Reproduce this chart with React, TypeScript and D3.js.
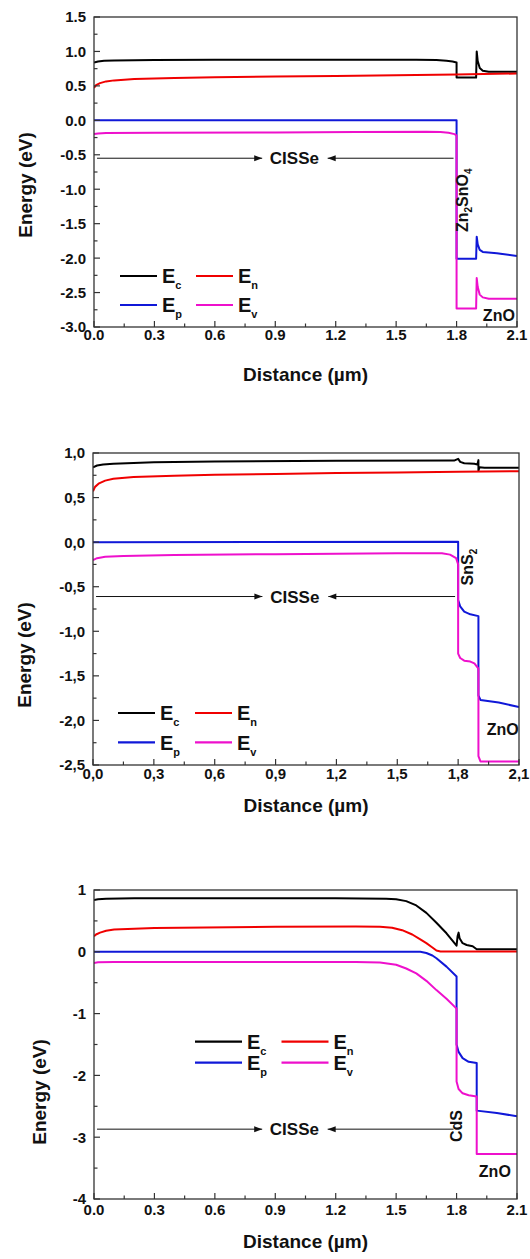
import React from "react";
import * as d3 from "d3";

type Pt = [number, number];

// distance (µm) ticks shared by all three panels
const distanceTicks = [0, 0.3, 0.6, 0.9, 1.2, 1.5, 1.8, 2.1];
const energyTicksA = [-3, -2.5, -2, -1.5, -1, -0.5, 0, 0.5, 1, 1.5];
const energyTicksB = [-2.5, -2, -1.5, -1, -0.5, 0, 0.5, 1];
const energyTicksC = [-4, -3, -2, -1, 0, 1];

// --- panel A: CISSe / Zn2SnO4 / ZnO
const ecA: Pt[] = [[0, 0.84], [0.02, 0.855], [0.05, 0.865], [0.1, 0.87], [0.3, 0.875], [0.6, 0.878], [1.2, 0.88], [1.6, 0.88], [1.7, 0.875], [1.75, 0.865], [1.78, 0.855], [1.8, 0.84], [1.8, 0.62], [1.897, 0.62], [1.9, 1.0], [1.905, 0.86], [1.915, 0.76], [1.93, 0.72], [1.96, 0.705], [2.1, 0.705]];
const enA: Pt[] = [[0, 0.47], [0.01, 0.51], [0.03, 0.54], [0.06, 0.565], [0.1, 0.58], [0.2, 0.6], [0.4, 0.615], [0.6, 0.625], [0.9, 0.635], [1.2, 0.645], [1.5, 0.655], [1.8, 0.665], [2.1, 0.68]];
const epA: Pt[] = [[0, 0], [1.8, 0], [1.8, -2.01], [1.897, -2.01], [1.9, -1.69], [1.905, -1.8], [1.915, -1.88], [1.93, -1.91], [2.0, -1.93], [2.1, -1.97]];
const evA: Pt[] = [[0, -0.2], [0.02, -0.19], [0.06, -0.185], [0.3, -0.18], [0.9, -0.175], [1.3, -0.17], [1.65, -0.165], [1.72, -0.17], [1.76, -0.18], [1.79, -0.2], [1.8, -0.22], [1.8, -2.73], [1.897, -2.73], [1.9, -2.29], [1.905, -2.42], [1.915, -2.53], [1.93, -2.57], [1.96, -2.59], [2.1, -2.59]];

// --- panel B: CISSe / SnS2 / ZnO
const ecB: Pt[] = [[0, 0.84], [0.02, 0.86], [0.05, 0.87], [0.1, 0.88], [0.3, 0.895], [0.6, 0.905], [1.2, 0.912], [1.78, 0.915], [1.8, 0.935], [1.81, 0.9], [1.83, 0.885], [1.88, 0.88], [1.895, 0.87], [1.9, 0.92], [1.9, 0.8], [1.905, 0.84], [1.93, 0.835], [2.1, 0.835]];
const enB: Pt[] = [[0, 0.57], [0.01, 0.62], [0.03, 0.66], [0.06, 0.69], [0.1, 0.71], [0.2, 0.73], [0.4, 0.745], [0.6, 0.755], [0.9, 0.765], [1.2, 0.775], [1.5, 0.78], [1.8, 0.79], [2.1, 0.795]];
const epB: Pt[] = [[0, 0], [1.8, 0.005], [1.8, -0.65], [1.81, -0.72], [1.83, -0.78], [1.86, -0.81], [1.9, -0.83], [1.9, -1.72], [1.91, -1.77], [2.0, -1.8], [2.1, -1.85]];
const evB: Pt[] = [[0, -0.2], [0.02, -0.18], [0.06, -0.165], [0.15, -0.155], [0.4, -0.145], [0.9, -0.135], [1.5, -0.125], [1.72, -0.125], [1.76, -0.14], [1.79, -0.18], [1.8, -0.25], [1.8, -1.25], [1.81, -1.3], [1.83, -1.33], [1.86, -1.34], [1.88, -1.36], [1.9, -1.42], [1.9, -2.4], [1.91, -2.46], [2.1, -2.46]];

// --- panel C: CISSe / CdS / ZnO
const ecC: Pt[] = [[0, 0.84], [0.02, 0.85], [0.06, 0.86], [0.2, 0.865], [1.2, 0.866], [1.45, 0.86], [1.5, 0.85], [1.55, 0.82], [1.6, 0.75], [1.65, 0.63], [1.7, 0.47], [1.75, 0.3], [1.8, 0.1], [1.805, 0.25], [1.81, 0.31], [1.815, 0.22], [1.83, 0.14], [1.85, 0.11], [1.88, 0.09], [1.9, 0.04], [2.1, 0.04]];
const enC: Pt[] = [[0, 0.25], [0.01, 0.28], [0.03, 0.31], [0.06, 0.34], [0.1, 0.36], [0.3, 0.385], [0.9, 0.405], [1.3, 0.41], [1.42, 0.405], [1.48, 0.39], [1.53, 0.35], [1.58, 0.28], [1.62, 0.2], [1.65, 0.14], [1.68, 0.07], [1.7, 0.02], [1.72, 0.005], [2.1, 0.005]];
const epC: Pt[] = [[0, 0], [1.62, 0], [1.65, -0.02], [1.68, -0.06], [1.7, -0.105], [1.75, -0.24], [1.8, -0.4], [1.8, -1.5], [1.81, -1.62], [1.83, -1.72], [1.86, -1.78], [1.9, -1.8], [1.9, -2.57], [2.0, -2.61], [2.1, -2.66]];
const evC: Pt[] = [[0, -0.18], [0.02, -0.17], [0.1, -0.165], [1.3, -0.165], [1.42, -0.175], [1.5, -0.21], [1.55, -0.27], [1.6, -0.35], [1.65, -0.47], [1.7, -0.62], [1.75, -0.76], [1.8, -0.92], [1.8, -2.1], [1.81, -2.22], [1.83, -2.29], [1.86, -2.32], [1.9, -2.34], [1.9, -3.27], [2.1, -3.27]];

const seriesNames = ["c", "n", "p", "v"];
const seriesColors = ["#000000", "#f00000", "#1018d8", "#ee10cc"];

const FONT = "'Liberation Sans', Arial, sans-serif";

type Label = { parts: [string, boolean][]; x: number; y: number };

const dot = (v: number) => v.toFixed(1);
const comma = (v: number) => v.toFixed(1).replace(".", ",");

const panels = [
  {
    box: { left: 94, top: 17, right: 517, bottom: 327 },
    yDomain: [-3, 1.5], yTicks: energyTicksA, fmt: dot, xfmt: dot,
    series: [ecA, enA, epA, evA],
    arrowY: -0.55,
    layer: { parts: [["Zn", false], ["2", true], ["SnO", false], ["4", true]], x: 1.855, y: -1.16 } as Label,
    zno: { x: 2.01, y: -2.92 },
    legend: { dx: 26, dy: 259, col: 76, row: 29, len: 37 },
    yTitle: { x: 25, y: 185 }, xLabelOff: 13, xTitleOff: 54,
  },
  {
    box: { left: 93, top: 453, right: 519, bottom: 765 },
    yDomain: [-2.5, 1], yTicks: energyTicksB, fmt: comma, xfmt: comma,
    series: [ecB, enB, epB, evB],
    arrowY: -0.61,
    layer: { parts: [["SnS", false], ["2", true]], x: 1.874, y: -0.28 } as Label,
    zno: { x: 2.02, y: -2.165 },
    legend: { dx: 25, dy: 260, col: 77, row: 29.4, len: 37 },
    yTitle: { x: 24, y: 655 }, xLabelOff: 14, xTitleOff: 47,
  },
  {
    box: { left: 94, top: 890, right: 517, bottom: 1199 },
    yDomain: [-4, 1], yTicks: energyTicksC, fmt: (v: number) => String(v), xfmt: dot,
    series: [ecC, enC, epC, evC],
    arrowY: -2.87,
    layer: { parts: [["CdS", false]], x: 1.827, y: -2.82 } as Label,
    zno: { x: 1.99, y: -3.64 },
    legend: { dx: 101, dy: 151.7, col: 86.5, row: 21, len: 47 },
    yTitle: { x: 39, y: 1092 }, xLabelOff: 16, xTitleOff: 49,
  },
];

function Panel({ p, idx }: { p: (typeof panels)[number]; idx: number }) {
  const { left, top, right, bottom } = p.box;
  const x = d3.scaleLinear().domain([0, 2.1]).range([left, right]);
  const y = d3.scaleLinear().domain(p.yDomain).range([bottom, top]);
  const line = d3.line<Pt>().x((d) => x(d[0])).y((d) => y(d[1]));
  const clipId = `clip${idx}`;
  const xMinor = distanceTicks.slice(0, -1).map((t) => t + 0.15);
  const yStep = p.yTicks[1] - p.yTicks[0];
  const yMinor = p.yTicks.slice(0, -1).map((t) => t + yStep / 2);
  const ay = y(p.arrowY);
  const head = (tipX: number, dir: number) =>
    `M${tipX},${ay}L${tipX - dir * 8},${ay - 3}L${tipX - dir * 8},${ay + 3}Z`;
  const L = p.legend;
  return (
    <g fontFamily={FONT} fontWeight="bold" fill="#111">
      <clipPath id={clipId}>
        <rect x={left} y={top} width={right - left} height={bottom - top} />
      </clipPath>
      <g clipPath={`url(#${clipId})`}>
        {p.series.map((s, i) => (
          <path key={i} d={line(s) || ""} fill="none" stroke={seriesColors[i]} strokeWidth={2} strokeLinejoin="round" />
        ))}
      </g>
      <rect x={left} y={top} width={right - left} height={bottom - top} fill="none" stroke="#333" strokeWidth={1.3} />
      {distanceTicks.map((t) => (
        <g key={"x" + t}>
          <line x1={x(t)} x2={x(t)} y1={bottom} y2={bottom - 6} stroke="#333" strokeWidth={1.2} />
          <text x={x(t)} y={bottom + p.xLabelOff} textAnchor="middle" fontSize={15}>{p.xfmt(t)}</text>
        </g>
      ))}
      {xMinor.map((t) => (
        <line key={"xm" + t} x1={x(t)} x2={x(t)} y1={bottom} y2={bottom - 3.5} stroke="#333" strokeWidth={1.2} />
      ))}
      {p.yTicks.map((t) => (
        <g key={"y" + t}>
          <line x1={left} x2={left + 6} y1={y(t)} y2={y(t)} stroke="#333" strokeWidth={1.2} />
          <text x={left - 8} y={y(t)} dy="0.36em" textAnchor="end" fontSize={15}>{p.fmt(t)}</text>
        </g>
      ))}
      {yMinor.map((t) => (
        <line key={"ym" + t} x1={left} x2={left + 3.5} y1={y(t)} y2={y(t)} stroke="#333" strokeWidth={1.2} />
      ))}
      <text x={(left + right) / 2} y={bottom + p.xTitleOff} textAnchor="middle" fontSize={19}>Distance (µm)</text>
      <text transform={`translate(${p.yTitle.x},${p.yTitle.y}) rotate(-90)`} dy="0.35em" textAnchor="middle" fontSize={19}>Energy (eV)</text>
      {/* CISSe arrows */}
      <line x1={x(0.015)} x2={x(0.835)} y1={ay} y2={ay} stroke="#111" strokeWidth={1} />
      <path d={head(x(0.835), 1)} fill="#111" />
      <text x={x(0.995)} y={ay} dy="0.36em" textAnchor="middle" fontSize={17}>CISSe</text>
      <line x1={x(1.16)} x2={x(1.785)} y1={ay} y2={ay} stroke="#111" strokeWidth={1} />
      <path d={head(x(1.16), -1)} fill="#111" />
      <text transform={`translate(${x(p.layer.x)},${y(p.layer.y)}) rotate(-90)`} dy="0.36em" textAnchor="middle" fontSize={16}>
        {p.layer.parts.map(([s, sub], i) => (
          <tspan key={i} fontSize={sub ? 10 : 16} dy={sub ? 4 : i > 0 ? -4 : 0}>{s}</tspan>
        ))}
      </text>
      <text x={x(p.zno.x)} y={y(p.zno.y)} textAnchor="middle" fontSize={16}>ZnO</text>
      {seriesNames.map((n, i) => {
        const lx = left + L.dx + (i % 2) * L.col;
        const ly = top + L.dy + Math.floor(i / 2) * L.row;
        return (
          <g key={"lg" + n}>
            <line x1={lx} x2={lx + L.len} y1={ly} y2={ly} stroke={seriesColors[i]} strokeWidth={2.2} />
            <text x={lx + L.len + 5} y={ly} dy="0.36em" fontSize={20}>
              E<tspan fontSize={11} dy={6}>{n}</tspan>
            </text>
          </g>
        );
      })}
    </g>
  );
}

export default function App() {
  return (
    <svg width={530} height={1259} style={{ position: "absolute", left: 0, top: 0, background: "#fff" }}>
      <rect width={530} height={1259} fill="#fff" />
      {panels.map((p, i) => (
        <Panel key={i} p={p} idx={i} />
      ))}
    </svg>
  );
}
